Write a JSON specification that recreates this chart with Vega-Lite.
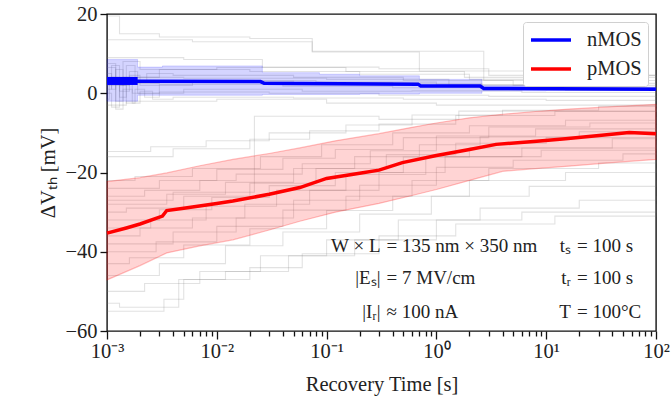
{
  "$schema": "https://vega.github.io/schema/vega-lite/v6.json",
  "width": 549,
  "height": 317,
  "autosize": "none",
  "padding": {"left": 107, "top": 14, "right": 16, "bottom": 74},
  "config": {
    "font": "Liberation Serif",
    "view": {"stroke": "#111", "strokeWidth": 1.4},
    "axis": {"domain": false, "grid": false, "tickColor": "#111", "tickWidth": 1.3, "labelColor": "#222", "titleColor": "#222", "labelFontSize": 20.5, "titleFontSize": 20.5, "titleFontWeight": "normal", "labelFont": "Liberation Serif", "titleFont": "Liberation Serif"},
    "axisY": {"tickSize": 7, "labelPadding": 3, "titlePadding": 6},
    "text": {"font": "Liberation Serif", "fontSize": 19, "color": "#222"}
  },
  "datasets": {
    "gray": [
      {"id":"n1","t":0.001,"v":19.5},{"id":"n1","t":0.0013,"v":15},{"id":"n1","t":0.003,"v":14.2},{"id":"n1","t":0.02,"v":13.8},{"id":"n1","t":0.074,"v":10.4},{"id":"n1","t":0.7,"v":5.6},{"id":"n1","t":8,"v":4.5},{"id":"n1","t":100,"v":4.5},
      {"id":"n2","t":0.001,"v":13.5},{"id":"n2","t":0.006,"v":13},{"id":"n2","t":0.074,"v":10.6},{"id":"n2","t":2.7,"v":3.2},{"id":"n2","t":100,"v":2.8},
      {"id":"n3","t":0.001,"v":9},{"id":"n3","t":0.005,"v":8.5},{"id":"n3","t":0.026,"v":6.6},{"id":"n3","t":0.3,"v":6.2},{"id":"n3","t":3,"v":4.5},{"id":"n3","t":100,"v":4},
      {"id":"n4","t":0.001,"v":6.5},{"id":"n4","t":0.0012,"v":3},{"id":"n4","t":0.0015,"v":7},{"id":"n4","t":0.0018,"v":4},{"id":"n4","t":0.003,"v":6},{"id":"n4","t":0.02,"v":5.5},{"id":"n4","t":0.2,"v":4.8},{"id":"n4","t":2,"v":3.5},{"id":"n4","t":20,"v":2.5},{"id":"n4","t":100,"v":2.2},
      {"id":"n5","t":0.001,"v":5},{"id":"n5","t":0.0011,"v":1},{"id":"n5","t":0.0012,"v":6},{"id":"n5","t":0.0014,"v":2},{"id":"n5","t":0.0016,"v":5.5},{"id":"n5","t":0.0019,"v":3},{"id":"n5","t":0.0023,"v":5},{"id":"n5","t":0.004,"v":4.5},{"id":"n5","t":0.05,"v":4},{"id":"n5","t":0.5,"v":3.2},{"id":"n5","t":5,"v":2},{"id":"n5","t":100,"v":1.6},
      {"id":"n6","t":0.001,"v":3.5},{"id":"n6","t":0.0011,"v":7},{"id":"n6","t":0.0013,"v":0.5},{"id":"n6","t":0.0016,"v":4.5},{"id":"n6","t":0.002,"v":2},{"id":"n6","t":0.006,"v":3.2},{"id":"n6","t":0.08,"v":2.8},{"id":"n6","t":1,"v":2.2},{"id":"n6","t":10,"v":1.5},{"id":"n6","t":100,"v":1.2},
      {"id":"n7","t":0.001,"v":2},{"id":"n7","t":0.0012,"v":-2},{"id":"n7","t":0.0014,"v":4},{"id":"n7","t":0.0017,"v":0},{"id":"n7","t":0.003,"v":2.2},{"id":"n7","t":0.04,"v":1.8},{"id":"n7","t":0.4,"v":1.4},{"id":"n7","t":4,"v":1},{"id":"n7","t":100,"v":0.8},
      {"id":"n8","t":0.001,"v":1},{"id":"n8","t":0.0011,"v":4},{"id":"n8","t":0.0013,"v":-1},{"id":"n8","t":0.0015,"v":3},{"id":"n8","t":0.0019,"v":0},{"id":"n8","t":0.005,"v":1},{"id":"n8","t":0.06,"v":0.5},{"id":"n8","t":0.6,"v":0.6},{"id":"n8","t":6,"v":0.2},{"id":"n8","t":100,"v":0},
      {"id":"n9","t":0.001,"v":0},{"id":"n9","t":0.0011,"v":-3.5},{"id":"n9","t":0.0013,"v":2},{"id":"n9","t":0.0015,"v":-2.5},{"id":"n9","t":0.0018,"v":1},{"id":"n9","t":0.0022,"v":-1},{"id":"n9","t":0.003,"v":0.3},{"id":"n9","t":0.03,"v":0},{"id":"n9","t":0.3,"v":-0.5},{"id":"n9","t":3,"v":-0.8},{"id":"n9","t":100,"v":-1},
      {"id":"n10","t":0.001,"v":-1.5},{"id":"n10","t":0.00105,"v":2.5},{"id":"n10","t":0.0012,"v":-4},{"id":"n10","t":0.0014,"v":1},{"id":"n10","t":0.0017,"v":-2.5},{"id":"n10","t":0.002,"v":0.5},{"id":"n10","t":0.0026,"v":-1.5},{"id":"n10","t":0.004,"v":-1},{"id":"n10","t":0.05,"v":-1.2},{"id":"n10","t":0.5,"v":-1.5},{"id":"n10","t":10,"v":-1.8},{"id":"n10","t":100,"v":-2},
      {"id":"n11","t":0.001,"v":-3},{"id":"n11","t":0.0015,"v":-2},{"id":"n11","t":0.01,"v":-1.5},{"id":"n11","t":0.1,"v":-2.5},{"id":"n11","t":1,"v":-3},{"id":"n11","t":100,"v":-3.3},
      {"id":"n12","t":0.001,"v":4},{"id":"n12","t":0.005,"v":3.8},{"id":"n12","t":0.1,"v":3.5},{"id":"n12","t":1.3,"v":2},{"id":"n12","t":15,"v":0.8},{"id":"n12","t":100,"v":0.5},
      {"id":"n13","t":0.001,"v":7.5},{"id":"n13","t":0.0012,"v":2},{"id":"n13","t":0.0014,"v":8},{"id":"n13","t":0.002,"v":6},{"id":"n13","t":0.01,"v":6.5},{"id":"n13","t":0.15,"v":5.5},{"id":"n13","t":1.8,"v":4},{"id":"n13","t":100,"v":3.5},
      {"id":"n14","t":0.001,"v":2.5},{"id":"n14","t":0.003,"v":3},{"id":"n14","t":0.05,"v":2.7},{"id":"n14","t":0.4,"v":2.4},{"id":"n14","t":2.6,"v":1.3},{"id":"n14","t":100,"v":1},
      {"id":"p1","t":0.001,"v":-14.7},{"id":"p1","t":0.0025,"v":-13.5},{"id":"p1","t":0.008,"v":-12},{"id":"p1","t":0.03,"v":-10},{"id":"p1","t":0.15,"v":-8},{"id":"p1","t":0.6,"v":-5.5},{"id":"p1","t":4,"v":-4.3},{"id":"p1","t":30,"v":-3.3},{"id":"p1","t":100,"v":-3},
      {"id":"p2","t":0.001,"v":-16},{"id":"p2","t":0.004,"v":-14},{"id":"p2","t":0.02,"v":-11.6},{"id":"p2","t":0.07,"v":-9.5},{"id":"p2","t":0.3,"v":-7.8},{"id":"p2","t":1.5,"v":-5.6},{"id":"p2","t":12,"v":-4.6},{"id":"p2","t":100,"v":-4},
      {"id":"p3","t":0.001,"v":-27},{"id":"p3","t":0.004,"v":-25},{"id":"p3","t":0.022,"v":-5.8},{"id":"p3","t":0.3,"v":-6.6},{"id":"p3","t":1.6,"v":-4.5},{"id":"p3","t":100,"v":-3.8},
      {"id":"p4","t":0.001,"v":-22},{"id":"p4","t":0.0018,"v":-21},{"id":"p4","t":0.006,"v":-19},{"id":"p4","t":0.025,"v":-16},{"id":"p4","t":0.09,"v":-13},{"id":"p4","t":0.4,"v":-10},{"id":"p4","t":2,"v":-8.2},{"id":"p4","t":15,"v":-6.8},{"id":"p4","t":100,"v":-6},
      {"id":"p5","t":0.001,"v":-24},{"id":"p5","t":0.003,"v":-22},{"id":"p5","t":0.01,"v":-19.2},{"id":"p5","t":0.04,"v":-16.4},{"id":"p5","t":0.12,"v":-14.2},{"id":"p5","t":0.5,"v":-11.2},{"id":"p5","t":3,"v":-8.5},{"id":"p5","t":25,"v":-7.5},{"id":"p5","t":100,"v":-7},
      {"id":"p6","t":0.001,"v":-26},{"id":"p6","t":0.0022,"v":-24.5},{"id":"p6","t":0.007,"v":-22},{"id":"p6","t":0.015,"v":-20.4},{"id":"p6","t":0.06,"v":-17.8},{"id":"p6","t":0.25,"v":-14.5},{"id":"p6","t":1,"v":-10.8},{"id":"p6","t":8,"v":-9},{"id":"p6","t":100,"v":-8},
      {"id":"p7","t":0.001,"v":-28},{"id":"p7","t":0.0035,"v":-25.5},{"id":"p7","t":0.012,"v":-22.5},{"id":"p7","t":0.05,"v":-19},{"id":"p7","t":0.18,"v":-16},{"id":"p7","t":0.7,"v":-13},{"id":"p7","t":2.5,"v":-11},{"id":"p7","t":20,"v":-9.7},{"id":"p7","t":100,"v":-9},
      {"id":"p8","t":0.001,"v":-30},{"id":"p8","t":0.0015,"v":-29},{"id":"p8","t":0.005,"v":-26},{"id":"p8","t":0.02,"v":-22.7},{"id":"p8","t":0.08,"v":-19},{"id":"p8","t":0.35,"v":-15.5},{"id":"p8","t":1.5,"v":-12.6},{"id":"p8","t":10,"v":-11.2},{"id":"p8","t":100,"v":-10},
      {"id":"p9","t":0.001,"v":-32},{"id":"p9","t":0.003,"v":-29.4},{"id":"p9","t":0.009,"v":-26.3},{"id":"p9","t":0.03,"v":-23.3},{"id":"p9","t":0.12,"v":-20},{"id":"p9","t":0.5,"v":-16.1},{"id":"p9","t":2,"v":-13.8},{"id":"p9","t":40,"v":-11.5},{"id":"p9","t":100,"v":-11},
      {"id":"p10","t":0.001,"v":-34},{"id":"p10","t":0.0025,"v":-32},{"id":"p10","t":0.008,"v":-28.5},{"id":"p10","t":0.035,"v":-24.5},{"id":"p10","t":0.15,"v":-20.5},{"id":"p10","t":0.8,"v":-16},{"id":"p10","t":6,"v":-13.8},{"id":"p10","t":100,"v":-12},
      {"id":"p11","t":0.001,"v":-36},{"id":"p11","t":0.002,"v":-34},{"id":"p11","t":0.006,"v":-31.5},{"id":"p11","t":0.018,"v":-28},{"id":"p11","t":0.07,"v":-24.5},{"id":"p11","t":0.3,"v":-20},{"id":"p11","t":1.2,"v":-16},{"id":"p11","t":9,"v":-14.4},{"id":"p11","t":100,"v":-13},
      {"id":"p12","t":0.001,"v":-38},{"id":"p12","t":0.004,"v":-35},{"id":"p12","t":0.015,"v":-31.5},{"id":"p12","t":0.05,"v":-27},{"id":"p12","t":0.2,"v":-23.2},{"id":"p12","t":1,"v":-18.7},{"id":"p12","t":5,"v":-16.9},{"id":"p12","t":50,"v":-15.3},{"id":"p12","t":100,"v":-15},
      {"id":"p13","t":0.001,"v":-40},{"id":"p13","t":0.0028,"v":-37.5},{"id":"p13","t":0.01,"v":-33.6},{"id":"p13","t":0.04,"v":-29.5},{"id":"p13","t":0.15,"v":-26},{"id":"p13","t":0.6,"v":-22},{"id":"p13","t":3,"v":-19},{"id":"p13","t":30,"v":-17.6},{"id":"p13","t":100,"v":-17},
      {"id":"p14","t":0.001,"v":-43},{"id":"p14","t":0.0016,"v":-41.5},{"id":"p14","t":0.005,"v":-38.3},{"id":"p14","t":0.02,"v":-34.2},{"id":"p14","t":0.1,"v":-29.6},{"id":"p14","t":0.4,"v":-26},{"id":"p14","t":2,"v":-22},{"id":"p14","t":15,"v":-20},{"id":"p14","t":100,"v":-19},
      {"id":"p15","t":0.001,"v":-46},{"id":"p15","t":0.003,"v":-43},{"id":"p15","t":0.012,"v":-38.5},{"id":"p15","t":0.04,"v":-35},{"id":"p15","t":0.2,"v":-30.5},{"id":"p15","t":0.9,"v":-26},{"id":"p15","t":7,"v":-23.5},{"id":"p15","t":100,"v":-22},
      {"id":"p16","t":0.001,"v":-50},{"id":"p16","t":0.0022,"v":-48},{"id":"p16","t":0.007,"v":-45},{"id":"p16","t":0.025,"v":-41},{"id":"p16","t":0.1,"v":-37},{"id":"p16","t":0.45,"v":-32},{"id":"p16","t":2.5,"v":-29},{"id":"p16","t":20,"v":-27},{"id":"p16","t":100,"v":-26},
      {"id":"p17","t":0.001,"v":-53},{"id":"p17","t":0.0013,"v":-54},{"id":"p17","t":0.0045,"v":-47},{"id":"p17","t":0.012,"v":-45},{"id":"p17","t":0.045,"v":-41},{"id":"p17","t":0.18,"v":-37},{"id":"p17","t":1,"v":-32},{"id":"p17","t":6,"v":-30},{"id":"p17","t":100,"v":-28},
      {"id":"p18","t":0.001,"v":-55},{"id":"p18","t":0.0033,"v":-52},{"id":"p18","t":0.005,"v":-47},{"id":"p18","t":0.02,"v":-44},{"id":"p18","t":0.06,"v":-40.5},{"id":"p18","t":0.3,"v":-36},{"id":"p18","t":1.5,"v":-33},{"id":"p18","t":12,"v":-31},{"id":"p18","t":100,"v":-29.5}
    ],
    "nband": [
      {"t":0.001,"lo":-2,"hi":8.5},{"t":0.0019,"lo":-0.5,"hi":6.6},{"t":0.0032,"lo":-0.5,"hi":6.9},{"t":0.026,"lo":-0.3,"hi":5.2},{"t":0.086,"lo":-0.3,"hi":4.8},{"t":0.2,"lo":-0.2,"hi":4.4},{"t":0.7,"lo":0,"hi":3.5},{"t":2.6,"lo":0.6,"hi":1.9},{"t":10,"lo":0.7,"hi":1.5},{"t":100,"lo":0.7,"hi":1.3}
    ],
    "pband": [
      {"t":0.001,"lo":-47.1,"hi":-22.3},{"t":0.002,"lo":-43.5,"hi":-21.3},{"t":0.0035,"lo":-40.3,"hi":-20.1},{"t":0.007,"lo":-38.5,"hi":-18.3},{"t":0.014,"lo":-37,"hi":-16.7},{"t":0.03,"lo":-34.5,"hi":-15.2},{"t":0.057,"lo":-32.3,"hi":-13.8},{"t":0.12,"lo":-30,"hi":-12},{"t":0.3,"lo":-27.8,"hi":-10.2},{"t":0.6,"lo":-25.8,"hi":-8.6},{"t":1,"lo":-24.3,"hi":-7.5},{"t":2,"lo":-22,"hi":-6.2},{"t":4,"lo":-19.7,"hi":-5.3},{"t":8,"lo":-19,"hi":-4.6},{"t":16,"lo":-18.4,"hi":-4},{"t":40,"lo":-17.5,"hi":-3.4},{"t":100,"lo":-16.7,"hi":-2.8}
    ],
    "nnoise": [
      {"t":0.001,"v":3.1},{"t":0.0019,"v":3.1}
    ],
    "means": [
      {"g":"nMOS","t":0.001,"v":3.1},{"g":"nMOS","t":0.0019,"v":3.05},{"g":"nMOS","t":0.025,"v":2.95},{"g":"nMOS","t":0.027,"v":2.5},{"g":"nMOS","t":0.3,"v":2.35},{"g":"nMOS","t":0.68,"v":2.3},{"g":"nMOS","t":0.72,"v":1.85},{"g":"nMOS","t":2.5,"v":1.8},{"g":"nMOS","t":2.7,"v":1.2},{"g":"nMOS","t":100,"v":1.0},
      {"g":"pMOS","t":0.001,"v":-35.3},{"g":"pMOS","t":0.0015,"v":-34},{"g":"pMOS","t":0.002,"v":-33},{"g":"pMOS","t":0.0032,"v":-31},{"g":"pMOS","t":0.0035,"v":-29.6},{"g":"pMOS","t":0.005,"v":-29},{"g":"pMOS","t":0.01,"v":-27.8},{"g":"pMOS","t":0.014,"v":-27.2},{"g":"pMOS","t":0.03,"v":-25.5},{"g":"pMOS","t":0.057,"v":-23.8},{"g":"pMOS","t":0.1,"v":-21.5},{"g":"pMOS","t":0.2,"v":-20.2},{"g":"pMOS","t":0.3,"v":-19.4},{"g":"pMOS","t":0.49,"v":-17.5},{"g":"pMOS","t":1,"v":-15.7},{"g":"pMOS","t":2,"v":-14.2},{"g":"pMOS","t":3.5,"v":-12.9},{"g":"pMOS","t":8.2,"v":-12.1},{"g":"pMOS","t":15,"v":-11.5},{"g":"pMOS","t":32,"v":-10.6},{"g":"pMOS","t":57,"v":-9.9},{"g":"pMOS","t":80,"v":-10.1},{"g":"pMOS","t":100,"v":-10.2}
    ],
    "notes": [
      {"side":"l","t":0.33,"v":-40.0,"label":"W × L"},
      {"side":"r","t":0.33,"v":-40.0,"label":"= 135 nm × 350 nm"},
      {"side":"l","t":0.33,"v":-48.1,"label":"|Eₛ|"},
      {"side":"r","t":0.33,"v":-48.1,"label":"= 7 MV/cm"},
      {"side":"l","t":0.33,"v":-56.6,"label":"|Iᵣ|"},
      {"side":"r","t":0.33,"v":-56.6,"label":"≈ 100 nA"},
      {"side":"l","t":17.9,"v":-40.0,"label":"tₛ"},
      {"side":"r","t":17.9,"v":-40.0,"label":"= 100 s"},
      {"side":"l","t":17.9,"v":-48.1,"label":"tᵣ"},
      {"side":"r","t":17.9,"v":-48.1,"label":"= 100 s"},
      {"side":"l","t":17.9,"v":-56.6,"label":"T"},
      {"side":"r","t":17.9,"v":-56.6,"label":"= 100°C"}
    ]
  },
  "encoding": {
    "x": {
      "field": "t",
      "type": "quantitative",
      "title": "Recovery Time [s]",
      "scale": {"type": "log", "domain": [0.001, 100], "nice": false},
      "axis": {
        "values": [0.001,0.002,0.003,0.004,0.005,0.006,0.007,0.008,0.009,0.01,0.02,0.03,0.04,0.05,0.06,0.07,0.08,0.09,0.1,0.2,0.3,0.4,0.5,0.6,0.7,0.8,0.9,1,2,3,4,5,6,7,8,9,10,20,30,40,50,60,70,80,90,100],
        "labelExpr": "datum.value == 0.001 ? '10⁻³' : datum.value == 0.01 ? '10⁻²' : datum.value == 0.1 ? '10⁻¹' : datum.value == 1 ? '10⁰' : datum.value == 10 ? '10¹' : datum.value == 100 ? '10²' : ''",
        "tickSize": {"condition": {"test": "indexof([0.001,0.01,0.1,1,10,100], datum.value) >= 0", "value": 8}, "value": 5},
        "labelPadding": 2,
        "labelFlush": false,
        "labelOverlap": false,
        "titlePadding": 13
      }
    }
  },
  "layer": [
    {
      "data": {"name": "gray"},
      "mark": {"type": "line", "interpolate": "step-after", "color": "#7a7a7a", "opacity": 0.22, "strokeWidth": 1.1},
      "encoding": {
        "y": {"field": "v", "type": "quantitative", "title": "ΔVₜₕ [mV]", "scale": {"domain": [-60, 20], "nice": false}, "axis": {"values": [-60, -40, -20, 0, 20]}},
        "detail": {"field": "id"}
      }
    },
    {
      "data": {"name": "nband"},
      "mark": {"type": "area", "interpolate": "step-after", "color": "#0000ff", "fillOpacity": 0.17, "stroke": "#0000ff", "strokeOpacity": 0.15, "strokeWidth": 1},
      "encoding": {
        "y": {"field": "lo", "type": "quantitative", "title": "ΔVₜₕ [mV]"},
        "y2": {"field": "hi"}
      }
    },
    {
      "data": {"name": "pband"},
      "mark": {"type": "area", "color": "#ff0000", "fillOpacity": 0.17, "stroke": "#ff0000", "strokeOpacity": 0.25, "strokeWidth": 1.2},
      "encoding": {
        "y": {"field": "lo", "type": "quantitative", "title": "ΔVₜₕ [mV]"},
        "y2": {"field": "hi"}
      }
    },
    {
      "data": {"name": "nnoise"},
      "mark": {"type": "line", "color": "#0000ff", "strokeWidth": 8},
      "encoding": {
        "y": {"field": "v", "type": "quantitative", "title": "ΔVₜₕ [mV]"}
      }
    },
    {
      "data": {"name": "means"},
      "mark": {"type": "line", "strokeWidth": 3.5},
      "encoding": {
        "y": {"field": "v", "type": "quantitative", "title": "ΔVₜₕ [mV]"},
        "color": {
          "field": "g",
          "type": "nominal",
          "scale": {"domain": ["nMOS", "pMOS"], "range": ["#0000ff", "#ff0000"]},
          "legend": {
            "title": null,
            "orient": "top-right",
            "offset": 8,
            "padding": 6,
            "strokeColor": "#d0d0d0",
            "fillColor": "white",
            "cornerRadius": 3,
            "symbolType": "M-1,0H3",
            "symbolSize": 400,
            "symbolStrokeWidth": 3.5,
            "labelFontSize": 20.5,
            "labelFont": "Liberation Serif",
            "labelColor": "#222",
            "labelOffset": 34,
            "rowPadding": 6
          }
        }
      }
    },
    {
      "data": {"name": "notes"},
      "transform": [{"filter": "datum.side == 'l'"}],
      "mark": {"type": "text", "align": "right", "baseline": "alphabetic", "dx": -3},
      "encoding": {
        "y": {"field": "v", "type": "quantitative", "title": "ΔVₜₕ [mV]"},
        "text": {"field": "label"}
      }
    },
    {
      "data": {"name": "notes"},
      "transform": [{"filter": "datum.side == 'r'"}],
      "mark": {"type": "text", "align": "left", "baseline": "alphabetic", "dx": 3},
      "encoding": {
        "y": {"field": "v", "type": "quantitative", "title": "ΔVₜₕ [mV]"},
        "text": {"field": "label"}
      }
    }
  ]
}
